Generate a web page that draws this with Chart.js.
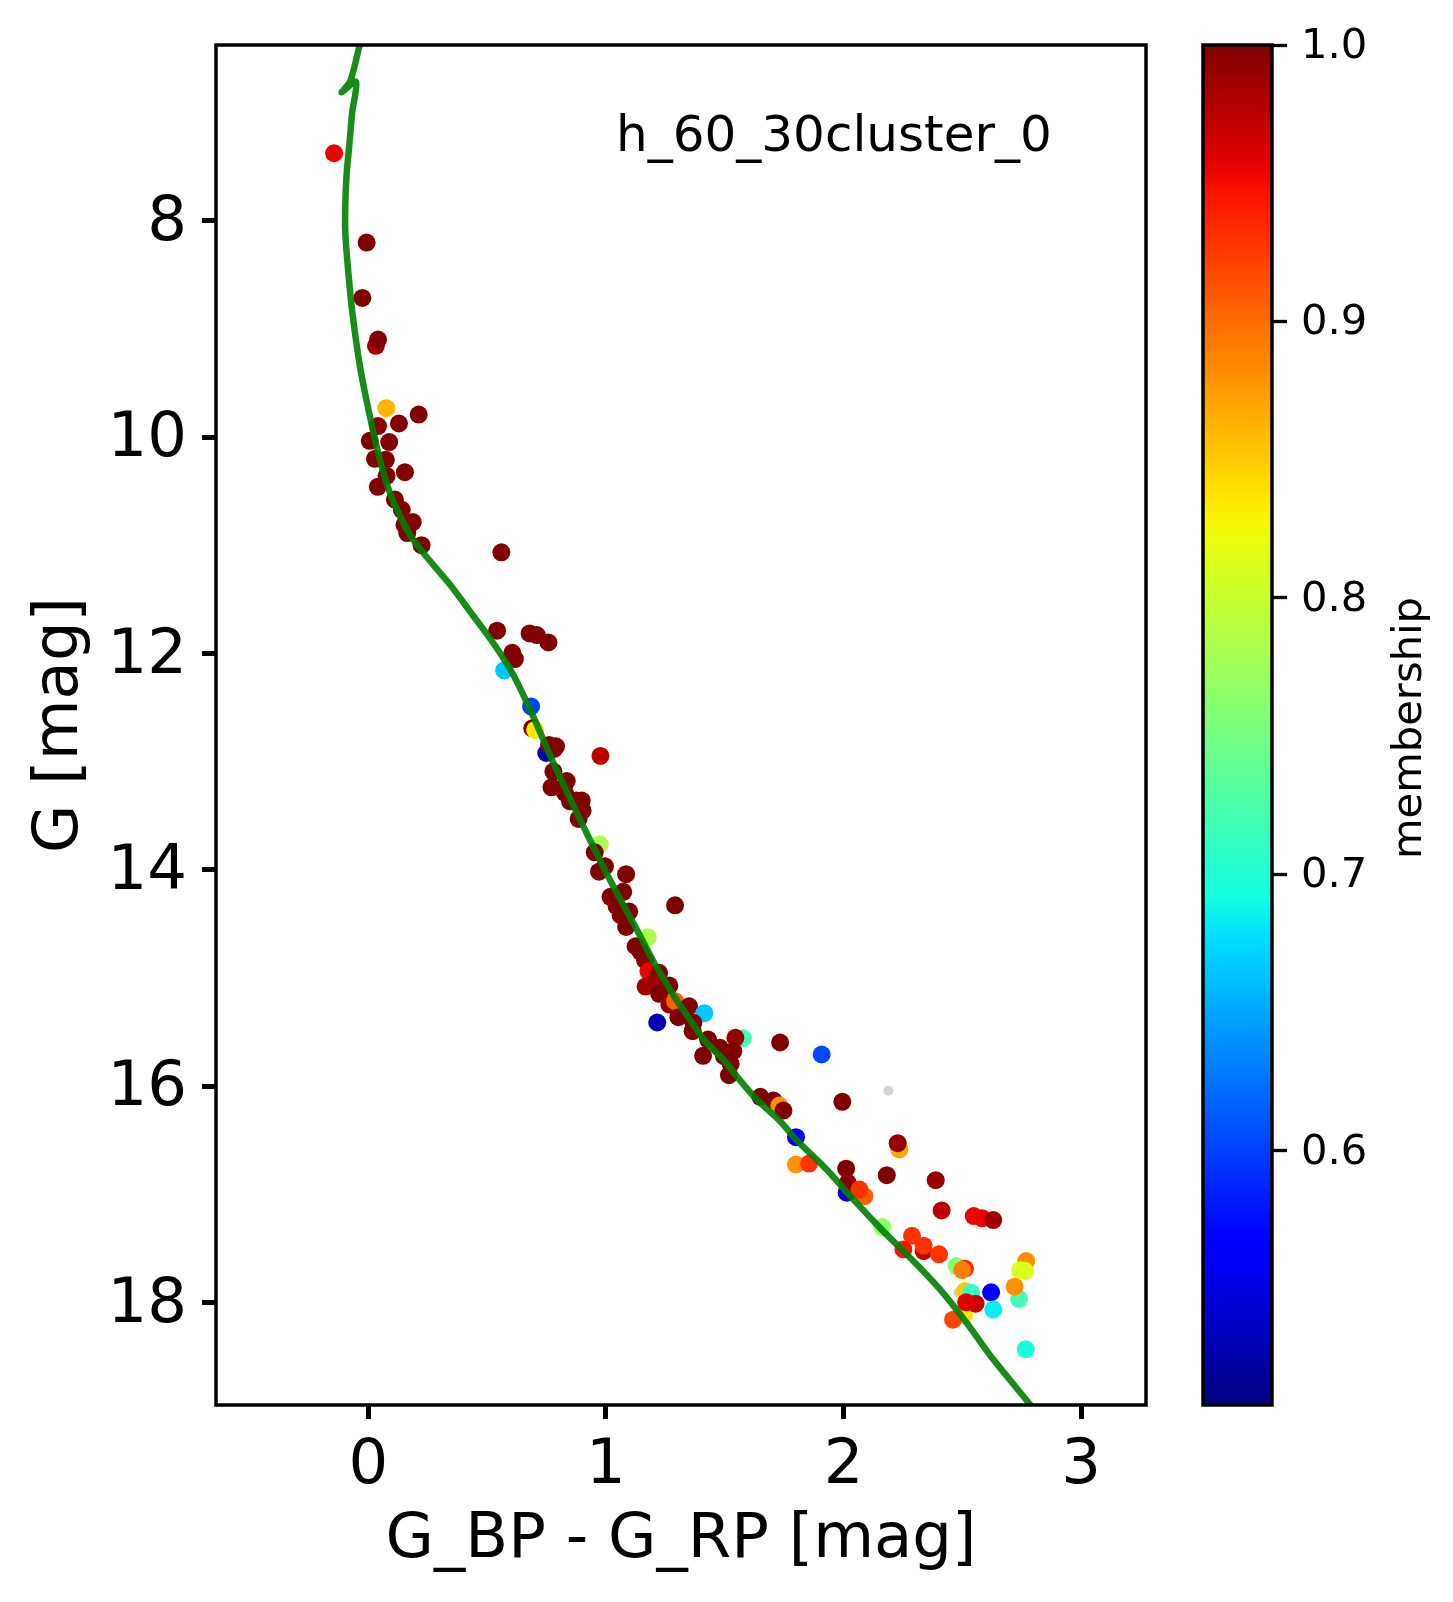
<!DOCTYPE html>
<html>
<head>
<meta charset="utf-8">
<title>h_60_30cluster_0</title>
<script src="https://cdn.jsdelivr.net/npm/chart.js@4"></script>
<style>
html, body { margin: 0; padding: 0; background: #fff; }
canvas { position: absolute; top: 0; }
#cmd { left: 0; }
#barra { left: 1190px; }
</style>
</head>
<body>
<canvas id="cmd" width="1190" height="1602"></canvas>
<canvas id="barra" width="263" height="1602"></canvas>
<script>
// stars: colour, magnitude, membership
var bpRp = [
 -0.144,-0.007,-0.025,0.032,0.041,0.076,0.212,0.129,0.041,0.006,0.088,0.028,0.074,0.077,0.154,0.040,
 0.112,0.141,0.187,0.152,0.164,0.224,0.560,0.542,0.679,0.709,0.758,0.606,0.617,0.572,0.685,0.690,
 0.702,0.749,0.761,0.790,0.782,0.977,0.779,0.835,0.771,0.828,0.849,0.898,0.877,0.902,0.885,0.974,
 0.953,0.996,0.971,1.085,1.073,1.019,1.045,1.098,1.062,1.085,1.291,1.176,1.125,1.146,1.165,1.179,
 1.224,1.207,1.167,1.267,1.224,1.267,1.291,1.350,1.305,1.414,1.216,1.368,1.365,1.430,1.576,1.545,
 1.733,1.908,1.480,1.536,1.409,1.497,1.525,1.518,1.650,1.705,1.730,1.747,1.800,1.995,2.235,2.228,
 1.800,1.855,2.013,2.011,2.018,2.088,2.067,2.182,2.388,2.413,2.548,2.584,2.630,2.163,2.337,2.288,
 2.252,2.337,2.402,2.476,2.511,2.500,2.769,2.764,2.743,2.739,2.720,2.621,2.630,2.767,2.511,2.537,
 2.507,2.461,2.556,2.516
];
var gMag = [
 7.374,8.200,8.712,9.155,9.097,9.731,9.790,9.873,9.897,10.033,10.045,10.200,10.209,10.357,10.323,10.458,
 10.576,10.671,10.785,10.810,10.886,10.998,11.064,11.789,11.814,11.829,11.897,11.993,12.051,12.156,12.489,12.692,
 12.707,12.920,12.846,12.858,12.883,12.947,13.092,13.179,13.237,13.289,13.367,13.358,13.358,13.453,13.530,13.764,
 13.838,13.968,14.017,14.041,14.204,14.250,14.337,14.386,14.420,14.528,14.328,14.624,14.707,14.760,14.836,14.938,
 14.953,15.040,15.080,15.070,15.147,15.246,15.215,15.262,15.363,15.326,15.412,15.415,15.492,15.570,15.557,15.554,
 15.597,15.708,15.646,15.677,15.720,15.724,15.794,15.899,16.099,16.133,16.180,16.226,16.472,16.145,16.586,16.528,
 16.725,16.716,16.986,16.764,16.894,17.018,16.957,16.824,16.870,17.150,17.202,17.223,17.239,17.304,17.526,17.384,
 17.510,17.476,17.556,17.664,17.689,17.701,17.618,17.710,17.704,17.967,17.855,17.907,18.067,18.434,17.895,17.910,
 18.120,18.160,18.012,18.000
];
var membership = [
 0.955,1,1,0.985,1,0.862,1,1,0.995,1,1,1,1,1,1,1,
 1,1,1,1,1,1,1,1,1,1,1,1,1,0.665,0.603,1,
 0.835,0.530,1,1,1,0.975,1,1,1,1,1,1,1,1,1,0.781,
 1,1,1,1,1,1,1,1,1,1,1,0.781,1,1,1,0.955,
 1,0.99,0.985,1,1,0.99,0.906,1,1,0.665,0.530,1,1,1,0.72,0.99,
 1,0.603,1,1,1,1,1,1,1,1,0.88,1,0.562,1,0.87,0.99,
 0.88,0.929,0.540,1,0.995,0.906,0.929,1,0.99,0.975,0.955,0.955,0.985,0.765,0.97,0.929,
 0.945,0.929,0.929,0.76,0.94,0.89,0.88,0.81,0.81,0.72,0.88,0.562,0.685,0.695,0.85,0.71,
 0.835,0.92,0.97,0.96
];
// two faint stars with no membership colour
var bpRpGris = [2.189, 2.483];
var gMagGris = [16.043, 17.910];

// isochrone
var isoBpRp = [
 -0.014,-0.038,-0.077,-0.112,-0.052,-0.068,-0.080,-0.091,-0.097,-0.097,-0.091,-0.070,-0.035,0.007,0.049,0.091,0.141,
 0.189,0.258,0.345,0.428,0.526,0.610,0.694,0.779,0.905,1.031,1.130,1.207,1.291,1.368,1.417,1.494,
 1.550,1.635,1.733,1.800,1.929,2.041,2.167,2.294,2.406,2.518,2.630,2.791,2.820
];
var isoG = [
 6.190,6.389,6.713,6.810,6.713,7.000,7.300,7.559,7.868,8.100,8.296,8.792,9.347,9.809,10.209,10.514,10.763,
 10.948,11.140,11.367,11.611,11.903,12.196,12.581,13.012,13.598,14.152,14.553,14.876,15.184,15.431,15.585,15.754,
 15.908,16.124,16.324,16.494,16.771,17.048,17.341,17.618,17.880,18.188,18.527,18.960,19.050
];

var xTicks = [0, 1, 2, 3];
var yTicks = [8, 10, 12, 14, 16, 18];
var barraTicks = [0.6, 0.7, 0.8, 0.9, 1.0];
var membMin = 0.508, membMax = 1;

var fuente = '"DejaVu Sans"';

//Colormap jet
function tramo(puntos, t){
    for (var i = 1; i < puntos.length; i++) {
        if (t <= puntos[i][0]) {
            var a = puntos[i-1], b = puntos[i];
            return a[1] + (b[1]-a[1]) * (t-a[0]) / (b[0]-a[0]);
        }
    }
    return puntos[puntos.length-1][1];
}
function jet(t){
    t = Math.min(1, Math.max(0, t));
    var r = tramo([[0,0],[0.35,0],[0.66,1],[0.89,1],[1,0.5]], t);
    var g = tramo([[0,0],[0.125,0],[0.375,1],[0.64,1],[0.91,0],[1,0]], t);
    var b = tramo([[0,0.5],[0.11,1],[0.34,1],[0.65,0],[1,0]], t);
    return "rgb(" + Math.round(r*255) + "," + Math.round(g*255) + "," + Math.round(b*255) + ")";
}
function colorMemb(m){
    return jet((m - membMin) / (membMax - membMin));
}
function pares(xs, ys){
    return xs.map(function(x, i){ return {x: x, y: ys[i]}; });
}

//Marco negro alrededor del area
var marco = {
    id: 'marco',
    afterDraw: function(chart){
        var a = chart.chartArea, c = chart.ctx;
        c.save();
        c.strokeStyle = "#000";
        c.lineWidth = 3.5;
        c.strokeRect(a.left, a.top, a.right - a.left, a.bottom - a.top);
        c.restore();
    }
};

//Bajar un poco las etiquetas del eje vertical
var bajarEtiquetas = {
    id: 'bajarEtiquetas',
    beforeDraw: function(chart, args, opts){
        if (chart.$etiquetasBajadas) { return; }
        chart.$etiquetasBajadas = true;
        chart.scales.y.getLabelItems().forEach(function(item){
            item.options.translation[1] += opts.dy;
        });
    }
};

var nombreCluster = {
    id: 'nombreCluster',
    afterDraw: function(chart){
        var c = chart.ctx;
        c.save();
        c.fillStyle = "#000";
        c.font = "50px " + fuente;
        c.textAlign = "left";
        c.textBaseline = "alphabetic";
        c.fillText("h_60_30cluster_0", 616, 151);
        c.restore();
    }
};

var tituloBarra = {
    id: 'tituloBarra',
    afterDraw: function(chart){
        var c = chart.ctx;
        c.save();
        c.fillStyle = "#000";
        c.font = "41.67px " + fuente;
        c.translate(220, 728);
        c.rotate(-Math.PI / 2);
        c.textAlign = "center";
        c.textBaseline = "middle";
        c.fillText("membership", 0, 0);
        c.restore();
    }
};

//Grafico principal
var graficoCmd = new Chart(document.getElementById("cmd"), {
    type: 'scatter',
    plugins: [marco, nombreCluster, bajarEtiquetas],
    data: {
        datasets: [
            {
                data: pares(isoBpRp, isoG),
                showLine: true,
                borderColor: "rgba(0,128,0,0.9)",
                borderWidth: 6.5,
                borderCapStyle: 'round',
                borderJoinStyle: 'round',
                pointRadius: 0,
                tension: 0.3,
                fill: false,
                order: 1
            },
            {
                data: pares(bpRp, gMag),
                pointRadius: 9,
                pointBorderWidth: 0,
                pointBackgroundColor: membership.map(colorMemb),
                order: 2
            },
            {
                data: pares(bpRpGris, gMagGris),
                pointRadius: 5,
                pointBorderWidth: 0,
                pointBackgroundColor: "#d3d3d3",
                order: 3
            }
        ]
    },
    options: {
        responsive: false,
        animation: false,
        events: [],
        layout: { padding: { top: 45, right: 44, left: 0, bottom: 0 } },
        scales: {
            x: {
                type: 'linear',
                min: -0.641,
                max: 3.273,
                afterBuildTicks: function(s){ s.ticks = xTicks.map(function(v){ return {value: v}; }); },
                afterFit: function(s){ s.height = 197; s.paddingLeft = 0; s.paddingRight = 0; },
                grid: { drawOnChartArea: false, tickLength: 14, tickWidth: 5, tickColor: "#000" },
                border: { display: false },
                ticks: { color: "#000", font: { family: fuente, size: 62.5 }, padding: 10, maxRotation: 0 },
                title: { display: true, text: "G_BP - G_RP [mag]", color: "#000", font: { family: fuente, size: 62.5 }, padding: { top: 0, bottom: 24 } }
            },
            y: {
                type: 'linear',
                reverse: true,
                min: 6.373,
                max: 18.949,
                afterBuildTicks: function(s){ s.ticks = yTicks.map(function(v){ return {value: v}; }); },
                afterFit: function(s){ s.width = 216; s.paddingTop = 0; s.paddingBottom = 0; },
                grid: { drawOnChartArea: false, tickLength: 14, tickWidth: 5, tickColor: "#000" },
                border: { display: false },
                ticks: { color: "#000", font: { family: fuente, size: 62.5 }, padding: 15 },
                title: { display: true, text: "G [mag]", color: "#000", font: { family: fuente, size: 62.5 }, padding: { top: 23, bottom: 0 } }
            }
        },
        plugins: {
            legend: { display: false },
            title: { display: false },
            tooltip: { enabled: false },
            bajarEtiquetas: { dy: 3 }
        }
    }
});

//Barra de color
var graficoBarra = new Chart(document.getElementById("barra"), {
    type: 'bar',
    plugins: [marco, tituloBarra, bajarEtiquetas],
    data: {
        labels: ["membership"],
        datasets: [{
            data: [[membMin, membMax]],
            barPercentage: 1,
            categoryPercentage: 1,
            borderWidth: 0,
            backgroundColor: function(ctx){
                var a = ctx.chart.chartArea;
                if (!a) { return "#800000"; }
                var g = ctx.chart.ctx.createLinearGradient(0, a.bottom, 0, a.top);
                for (var i = 0; i <= 64; i++) {
                    g.addColorStop(i / 64, jet(i / 64));
                }
                return g;
            }
        }]
    },
    options: {
        responsive: false,
        animation: false,
        events: [],
        layout: { padding: { top: 45, left: 13, right: 0, bottom: 197 } },
        scales: {
            x: { display: false },
            y: {
                type: 'linear',
                position: 'right',
                min: membMin,
                max: membMax,
                afterBuildTicks: function(s){ s.ticks = barraTicks.map(function(v){ return {value: v}; }); },
                afterFit: function(s){ s.width = 181; s.paddingTop = 0; s.paddingBottom = 0; },
                grid: { drawOnChartArea: false, tickLength: 15, tickWidth: 3.3, tickColor: "#000" },
                border: { display: false },
                ticks: {
                    color: "#000",
                    font: { family: fuente, size: 41.67 },
                    padding: 14,
                    callback: function(v){ return Number(v).toFixed(1); }
                }
            }
        },
        plugins: {
            legend: { display: false },
            title: { display: false },
            tooltip: { enabled: false },
            bajarEtiquetas: { dy: 2 }
        }
    }
});
</script>
</body>
</html>
